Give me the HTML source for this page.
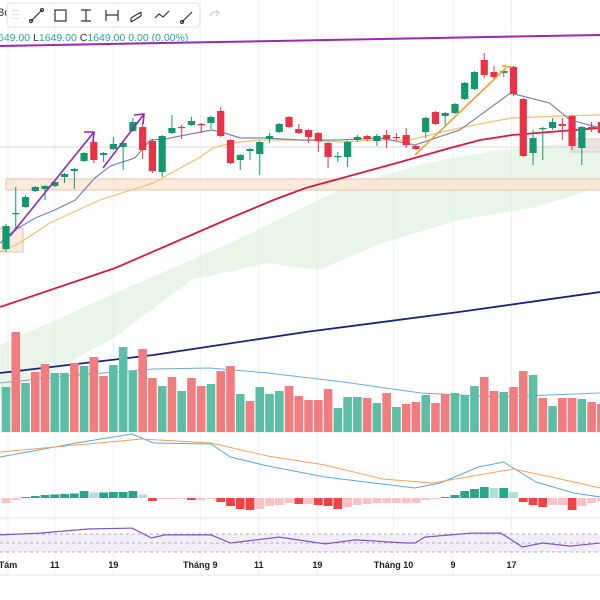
<!DOCTYPE html>
<html><head><meta charset="utf-8"><style>
html,body{margin:0;padding:0;background:#fff;width:600px;height:600px;overflow:hidden;font-family:"Liberation Sans",sans-serif}
svg{display:block}
</style></head><body>
<svg id="chart" width="600" height="600" xmlns="http://www.w3.org/2000/svg">
<rect width="600" height="600" fill="#fff"/>
<g id="grid"></g>
<g id="cloud"></g>
<rect x="6" y="179" width="600" height="11" fill="#fbe3d2" fill-opacity="0.75" stroke="#e8c2a8" stroke-width="1"/>
<rect x="-2" y="228" width="25" height="24" fill="#fbe3d2" fill-opacity="0.7" stroke="#e3c2ac"/>
<rect x="571" y="139" width="32" height="13" fill="#f5dbe0" fill-opacity="0.7" stroke="#d9c2c8"/>
<line x1="0" y1="147" x2="600" y2="147" stroke="#d8d8d8" stroke-width="1"/>
<line x1="0" y1="46" x2="600" y2="35" stroke="#9c27b0" stroke-width="2"/>
<g id="lines"></g>
<g id="vol"></g>
<g id="candles"></g>
<g fill="none" stroke-width="1.6">
<path d="M10 236 L94 132 M84 132 L94 132 L93 142" stroke="#8e2cb0"/>
<path d="M103 168 L144 114 M134 115 L144 114 L143 124" stroke="#8e2cb0"/>
<path d="M415 155 L506 68 M502 66 L512 67" stroke="#f0a030"/>
</g>
<g id="macd"></g>
<g id="rsi"></g>
<g id="xaxis" font-size="9" fill="#222" font-weight="bold"></g>
<text x="-3" y="16" font-size="11" fill="#333">Bo</text>
<g>
<rect x="7" y="3" width="193" height="24" rx="4" fill="#fff" stroke="#e2e2e2"/>
<g fill="none" stroke="#333" stroke-width="1.2">
<path d="M14 10v1M17 10v1M14 14v1M17 14v1M14 18v1M17 18v1" stroke="#bbb"/>
<g><path d="M31 21L42 10"/><circle cx="31" cy="21" r="1.5"/><circle cx="42" cy="10" r="1.5"/></g>
<g><rect x="55" y="10" width="11" height="11"/></g>
<g><path d="M81 10h10M86 10v11M81 21h10"/></g>
<g><path d="M106 10v11M118 10v11M106 15h12"/></g>
<g><path d="M131 18l10-6M131 22l10-6M131 18v4M141 12v4"/></g>
<g><path d="M155 18l4-4 4 3 6-6"/></g>
<g><path d="M182 22l10-10"/><circle cx="182" cy="22" r="1.5"/></g>
</g>
<path d="M210 16q3-6 9-3M216 10l3 3-3 3" fill="none" stroke="#ccc" stroke-width="1.2"/>
</g>
<text x="-2" y="41" font-size="10.5" fill="#26a69a">649.00 <tspan fill="#333">L</tspan>1649.00 <tspan fill="#333">C</tspan>1649.00 0.00 (0.00%)</text>
</svg>
<script>
const opens=[1451,1486,1493,1509,1511,1514,1523,1529,1539,1558,1545,1551,1553,1569,1573,1559,1528,1567,1573,1575,1576,1577,1589,1560,1540,1549,1546,1561,1568,1583,1571,1570,1567,1557,1543,1543,1560,1564,1559,1565,1563,1565,1554,1568,1588,1584,1587,1601,1611,1640,1628,1627,1633,1601,1547,1571,1572,1576,1584,1552,1573,1578];
const closes=[1474,1487,1503,1513,1514,1518,1526,1531,1547,1540,1547,1556,1557,1578,1550,1529,1564,1572,1572,1579,1575,1583,1564,1537,1545,1551,1558,1564,1576,1573,1567,1563,1559,1543,1544,1558,1563,1561,1564,1561,1562,1555,1551,1582,1576,1587,1596,1617,1628,1625,1623,1629,1606,1544,1562,1572,1578,1574,1554,1573,1572,1567];
const highs=[1476,1513,1505,1514,1515,1519,1527,1532,1548,1560,1548,1563,1558,1582,1577,1561,1565,1585,1575,1583,1577,1584,1593,1561,1546,1552,1559,1567,1577,1584,1576,1571,1568,1558,1548,1559,1565,1565,1566,1570,1567,1572,1555,1583,1589,1588,1597,1618,1629,1647,1634,1630,1634,1602,1570,1573,1582,1582,1585,1574,1578,1580];
const lows=[1448,1469,1492,1508,1500,1513,1517,1511,1538,1537,1538,1550,1530,1568,1541,1527,1523,1566,1561,1574,1567,1571,1563,1536,1530,1540,1525,1557,1567,1572,1566,1557,1548,1532,1538,1533,1558,1559,1554,1552,1560,1552,1550,1562,1575,1574,1586,1600,1610,1622,1622,1623,1604,1543,1535,1540,1570,1560,1550,1535,1568,1565];
const volumes=[45,100,49,60,68,59,59,69,66,75,56,67,85,61,83,54,46,55,41,54,46,48,61,66,38,31,45,38,41,46,36,32,32,43,24,35,35,34,29,39,25,28,30,37,29,38,39,37,46,55,41,40,45,61,57,34,26,34,34,33,30,28];
const volumeUp=[1,0,1,0,0,1,1,0,1,0,0,1,1,1,0,0,1,0,1,0,0,1,0,0,1,0,1,1,1,0,0,0,0,0,1,1,1,0,1,0,1,0,0,1,0,0,1,1,1,0,0,1,0,0,1,0,1,0,0,1,0,0];
const maFastIdx=[-0.6,0.9,3,5,7.1,9.1,10.7,13.2,14.8,16.3,18.9,21.1,22.4,24,26.5,30.1,34.2,38.3,41.9,46.5,51.7,55.7,57.8,60.9];
const maFastVal=[1457,1470,1482,1490,1500,1522,1534,1542,1560,1561,1566,1570,1567,1562,1562,1560,1560,1562,1555,1570,1607,1597,1580,1572];
const maMidIdx=[-0.6,1.4,4.5,9.6,15.1,19.9,21.2,23,26,30,34.2,38.3,41.4,45.5,49.6,51.8,56.8,60.9];
const maMidVal=[1448,1457,1477,1500,1517,1543,1552,1557,1560,1560,1558,1560,1560,1570,1578,1582,1584,1585];
const maSlowIdx=[-0.6,11.2,23,27.4,30.7,40.4,45.5,48.6,51.9,55.7,60.9];
const maSlowVal=[1393,1432,1482,1500,1512,1538,1552,1560,1565,1568,1572];
const maLongIdx=[-0.6,15.1,30.7,46.4,60.9];
const maLongVal=[1327,1345,1368,1388,1408];
const volMaIdx=[-0.6,7.3,15.1,20.9,26.8,34.6,42.5,50.4,60.9];
const volMaVal=[49,57,63,64,59,50,39,35,39];
const cloudUpIdx=[-0.6,11.2,23,33.5,37,43.4,50.6,60.9];
const cloudUpVal=[1355,1407,1457,1507,1520,1538,1550,1560];
const cloudLoIdx=[-0.6,11.2,19,26.8,32,38.6,46.4,54.3,60.9];
const cloudLoVal=[1300,1363,1420,1437,1430,1457,1480,1493,1513];
const macdHist=[-5,-2,1,2,3,3.5,4,4.5,7,5.5,5.5,6,6,7,3.5,-3,-1,-1,-1,-2,-2,-1,-4,-8,-11,-12,-11,-8,-7,-5,-6,-6,-7,-8,-11,-9,-7,-6,-5,-5,-5,-5,-5,-2,-1,1,3,7,9,11,10,10,6,-4,-7,-9,-7,-7,-12,-8,-5,-3];
const macdIdx=[-0.6,3.3,7.2,12.9,15.1,21,23,26.8,32.7,41.9,44.5,48.4,51,52.3,54.3,58.2,60.9];
const macdVal=[41,48,55,64,55,54,41,32,21,10,15,31,36,28,16,5,1];
const signalIdx=[-0.6,7.2,13.9,21,26.8,32.7,38.6,43.7,52,56.3,60.9];
const signalVal=[46,53,59,55,42,33,19,15,29,20,10];
const rsiIdx=[-0.6,3.5,8.4,12.9,14.9,16.3,21,23,28,32.7,35.8,41,41.9,42.9,47.6,50.7,52.9,55,57.8,60.9];
const rsiVal=[68,72,81,83,61,68,68,50,63,48,57,50,50,63,72,72,41,50,43,50];
const tickIdx=[0.2,5,11,19.9,25.9,31.9,39.7,45.8,51.8];
const tickLabels=["Tám","11","19","Tháng 9","11","19","Tháng 10","9","17"];

const NS="http://www.w3.org/2000/svg";
const X=i=>6+i*9.76;
const yP=p=>1700-p;
const yV=v=>432-v;
const yMl=v=>498-v;
const yR=r=>543-(r-50)*9/20;
function mk(parent,tag,attrs){const e=document.createElementNS(NS,tag);for(const k in attrs)e.setAttribute(k,attrs[k]);document.getElementById(parent).appendChild(e);return e;}
function pts(idx,val,fy){return idx.map((i,k)=>X(i).toFixed(1)+","+fy(val[k]).toFixed(1)).join(" ");}

tickIdx.forEach((t,k)=>{
  const g=mk('grid','line',{x1:X(t),x2:X(t),y1:0,y2:575,stroke:'#f0f0f0'});
  
  
  const tx=mk('xaxis','text',{x:X(t),y:568,'text-anchor':'middle'});
  tx.textContent=tickLabels[k];
  
  
});
[432,518,575].forEach(y=>{const l=mk('grid','line',{x1:0,x2:600,y1:y,y2:y,stroke:'#e6e6e6'});

});

const cu=pts(cloudUpIdx,cloudUpVal,yP), cl=pts(cloudLoIdx.slice().reverse(),cloudLoVal.slice().reverse(),yP);
const cp=mk('cloud','polygon',{points:cu+" "+cl,fill:'#d9ecd9','fill-opacity':'0.55'});



volumes.forEach((v,i)=>{
  const up=volumeUp[i]===1;
  const r=mk('vol','rect',{x:X(i)-4.3,y:yV(v),width:8.6,height:v,fill:up?'#5cbfa5':'#f27d80'});
  
  
});

const lineDefs=[[volMaIdx,volMaVal,yV,'#6aaed6',1,'volume-ma'],[maLongIdx,maLongVal,yP,'#1a237e',1.8,'ma-200'],[maSlowIdx,maSlowVal,yP,'#d81b45',1.8,'ma-50'],[maMidIdx,maMidVal,yP,'#f0c070',1.2,'ma-20'],[maFastIdx,maFastVal,yP,'#7986b0',1.2,'ma-10']];
lineDefs.forEach(d=>{
  const l=mk('lines','polyline',{points:pts(d[0],d[1],d[2]),fill:'none',stroke:d[3],'stroke-width':d[4]});
  
  
});

opens.forEach((o,i)=>{
  const c=closes[i],up=c>=o,col=up?'#13976f':'#ea3246';
  const w=mk('candles','line',{x1:X(i),x2:X(i),y1:yP(highs[i]),y2:yP(lows[i]),stroke:col,'stroke-width':1});
  
  
  const top=yP(Math.max(o,c)),h=Math.max(1.2,Math.abs(c-o));
  const b=mk('candles','rect',{x:X(i)-3.6,y:top,width:7.2,height:h,fill:col});
  
  
});

macdHist.forEach((v,i)=>{
  const prev=i?macdHist[i-1]:v;
  let col=v>=0?(v>=prev?'#26a68a':'#b2dfd6'):(v<prev?'#ef4444':'#f9c3c6');
  const y=v>=0?yMl(v):498;
  const r=mk('macd','rect',{x:X(i)-4.4,y:y,width:8.8,height:Math.max(0.8,Math.abs(v)),fill:col});
  
  
});
const ml=mk('macd','polyline',{points:pts(macdIdx,macdVal,yMl),fill:'none',stroke:'#5aa9d6','stroke-width':1});


const sl=mk('macd','polyline',{points:pts(signalIdx,signalVal,yMl),fill:'none',stroke:'#f0a060','stroke-width':1});



const band=mk('rsi','rect',{x:0,y:yR(70),width:600,height:yR(30)-yR(70),fill:'#ede7f6','fill-opacity':'0.7'});


[70,50,30].forEach(v=>{const l=mk('rsi','line',{x1:0,x2:600,y1:yR(v),y2:yR(v),stroke:'#9a9a9a','stroke-dasharray':'3,3','stroke-width':0.8});

});
const rl=mk('rsi','polyline',{points:pts(rsiIdx,rsiVal,yR),fill:'none',stroke:'#7e57c2','stroke-width':1.2});


</script>
</body></html>
